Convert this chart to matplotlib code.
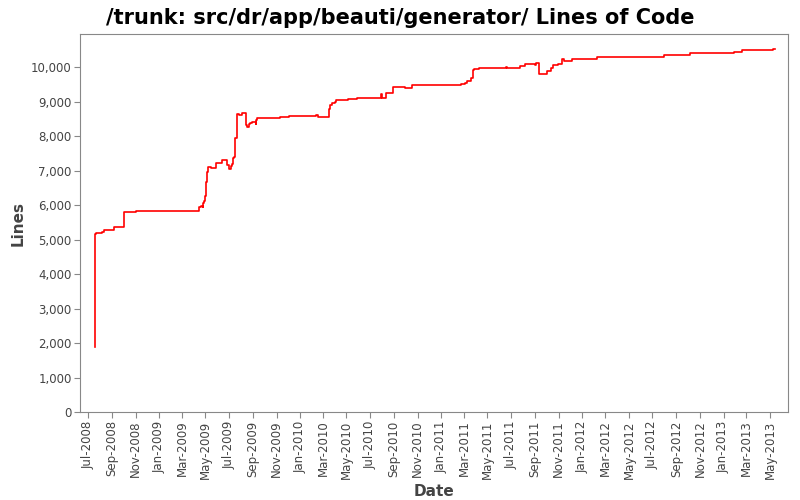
import matplotlib
matplotlib.use("Agg")
import matplotlib.pyplot as plt
import matplotlib.dates as mdates
from matplotlib.ticker import FuncFormatter
import datetime as dt

# months since 2008-07-01 at each change, and line count after the change
months = [0.62,0.62,0.70,1.19,1.36,2.24,3.09,4.11,9.46,9.58,9.75,9.80,9.89,9.97,10.06,10.14,10.23,10.43,
          10.91,11.37,11.85,12.02,12.13,12.22,12.36,12.41,12.53,12.70,12.87,13.07,13.41,13.52,13.66,13.78,
          13.97,14.29,14.31,14.40,16.35,17.12,19.41,19.56,20.52,20.60,20.77,21.03,21.11,22.08,22.90,24.94,
          24.97,25.37,25.96,26.98,27.58,31.74,32.08,32.25,32.42,32.59,32.76,32.85,33.22,35.57,35.60,36.76,
          37.13,38.03,38.12,38.38,39.06,39.40,39.52,39.99,40.33,40.50,41.16,43.31,49.00,51.21,54.96,55.65,
          58.19,58.25,58.39]
lines = [1880,5160,5200,5230,5290,5360,5790,5815,5940,5980,5950,6050,6130,6260,6660,6950,7090,7080,
         7208,7304,7159,7034,7130,7200,7372,7400,7932,8638,8620,8667,8309,8270,8350,8380,
         8396,8360,8470,8512,8540,8570,8600,8560,8773,8889,8947,8995,9034,9063,9092,9230,
         9092,9246,9410,9381,9468,9497,9527,9594,9600,9691,9903,9930,9961,10000,9961,10019,
         10087,10050,10106,9797,9874,9960,10058,10090,10222,10180,10242,10290,10348,10406,10425,10483,
         10490,10522,10522]
tick_labels = ["Jul-2008","Sep-2008","Nov-2008","Jan-2009","Mar-2009","May-2009","Jul-2009","Sep-2009",
               "Nov-2009","Jan-2010","Mar-2010","May-2010","Jul-2010","Sep-2010","Nov-2010","Jan-2011",
               "Mar-2011","May-2011","Jul-2011","Sep-2011","Nov-2011","Jan-2012","Mar-2012","May-2012",
               "Jul-2012","Sep-2012","Nov-2012","Jan-2013","Mar-2013","May-2013"]

base = dt.datetime(2008, 7, 1)
def m2d(m):
    return base + dt.timedelta(days=m * 30.44)
dates = [m2d(m) for m in months]
tick_dates = [dt.datetime.strptime(t, "%b-%Y") for t in tick_labels]

fig = plt.figure(figsize=(8, 5), dpi=100)
ax = fig.add_axes([0.100, 0.176, 0.885, 0.756])
ax.step(dates, lines, where="post", color="red", lw=1.2)
ax.set_xlim(m2d(-0.68), m2d(59.52))
ax.set_ylim(0, 10957)
ax.set_yticks(range(0, 11000, 1000))
ax.yaxis.set_major_formatter(FuncFormatter(lambda v, p: f"{int(v):,}"))
ax.set_xticks(tick_dates)
ax.set_xticklabels(tick_labels, rotation=90)
for s in ax.spines.values():
    s.set_color("#888888")
ax.tick_params(colors="#888888", labelcolor="#444444", labelsize=8.5, length=4, pad=2)
ax.set_xlabel("Date", fontsize=11, fontweight="bold", color="#444444")
ax.xaxis.set_label_coords(0.5, -0.19)
ax.set_ylabel("Lines", fontsize=11, fontweight="bold", color="#444444")
fig.suptitle("/trunk: src/dr/app/beauti/generator/ Lines of Code", fontsize=15, fontweight="bold", y=0.985)
fig.savefig("out.png", dpi=100)
